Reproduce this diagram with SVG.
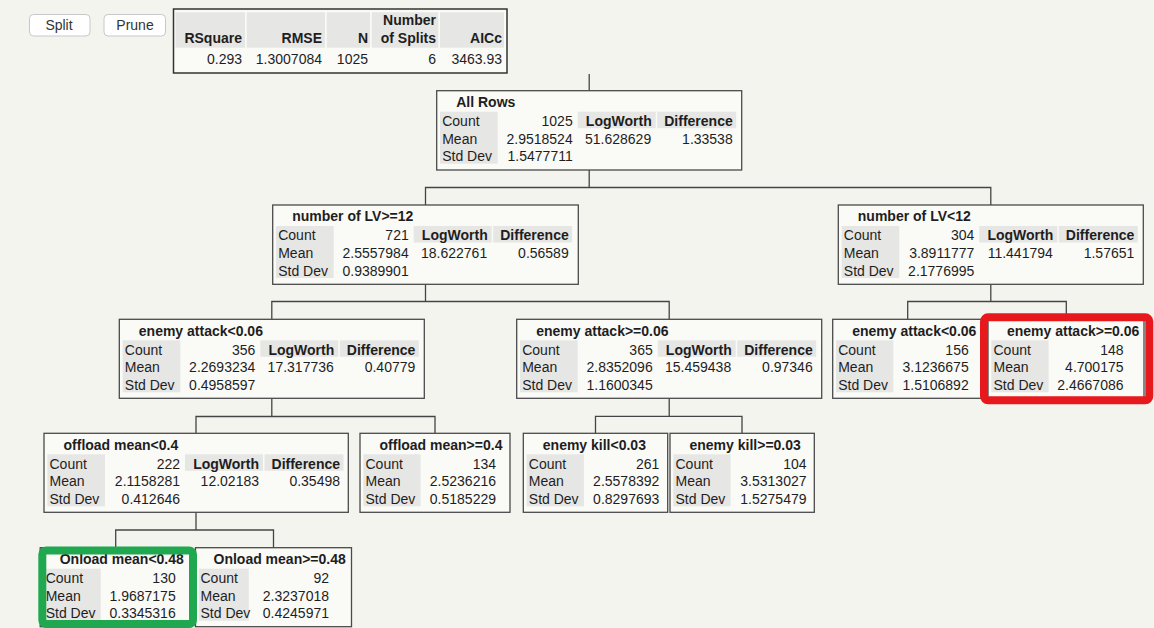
<svg xmlns="http://www.w3.org/2000/svg" width="1154" height="628" viewBox="0 0 1154 628">
<style>
text{font-family:"Liberation Sans",Arial,sans-serif;font-size:14px;fill:#1e1e1e}
.t{font-weight:bold}
.h{font-weight:bold;text-anchor:end}
.v{text-anchor:end}
.box{fill:#fafaf7;stroke:#4a4a4a;stroke-width:1.3}
.cell{fill:#e6e6e4}
.con{fill:none;stroke:#444;stroke-width:1.3}
.btn{fill:#ffffff;stroke:#c8c8c8;stroke-width:1}
.bt{fill:#333;text-anchor:middle}
</style>
<rect x="0" y="0" width="1154" height="628" fill="#f4f4ef"/>

<g id="buttons">
<rect class="btn" x="29.5" y="14.5" width="60.5" height="21.5" rx="4"/>
<text class="bt" x="59" y="30">Split</text>
<rect class="btn" x="104" y="14.5" width="61.5" height="21.5" rx="4"/>
<text class="bt" x="135" y="30">Prune</text>
</g>

<g id="summary">
<rect x="173.5" y="9" width="333.5" height="64" fill="#fafaf7" stroke="#333" stroke-width="1.5"/>
<rect class="cell" x="175.5" y="12.3" width="69.5" height="35.4"/>
<rect class="cell" x="246.7" y="12.3" width="78.3" height="35.4"/>
<rect class="cell" x="326.7" y="12.3" width="43.3" height="35.4"/>
<rect class="cell" x="371.7" y="12.3" width="66.6" height="35.4"/>
<rect class="cell" x="440" y="12.3" width="64" height="35.4"/>
<text class="h" x="242" y="42.7">RSquare</text>
<text class="h" x="322" y="42.7">RMSE</text>
<text class="h" x="368" y="42.7">N</text>
<text class="h" x="436" y="25">Number</text>
<text class="h" x="436" y="42.7">of Splits</text>
<text class="h" x="502" y="42.7">AICc</text>
<text class="v" x="242" y="64.3">0.293</text>
<text class="v" x="322" y="64.3">1.3007084</text>
<text class="v" x="368" y="64.3">1025</text>
<text class="v" x="436" y="64.3">6</text>
<text class="v" x="502" y="64.3">3463.93</text>
</g>

<g id="connectors">
<path class="con" d="M589.2 74V90.7"/>
<path class="con" d="M589.2 170V187.5M425.5 205V187.5H990.8V205"/>
<path class="con" d="M425.5 284.3V301.5M271.8 319.3V301.5H669.2V319.3"/>
<path class="con" d="M990.8 284.3V301.5M907.7 319.3V301.5H1066.3V319.3"/>
<path class="con" d="M271.8 398.3V416.5M196 433.3V416.5H435V433.3"/>
<path class="con" d="M669.2 398.3V416.3M595.5 433.3V416.3H742V433.3"/>
<path class="con" d="M196 512.3V530M115.7 547.7V530H273.5V547.7"/>
</g>

<g id="n-allrows" transform="translate(436.7,90.7)">
<rect class="box" x="0" y="0" width="305" height="79.3"/>
<rect class="cell" x="3.3" y="21" width="57.7" height="52"/>
<rect class="cell" x="141" y="21" width="78" height="16.5"/>
<rect class="cell" x="220.5" y="21" width="79" height="16.5"/>
<text class="t" x="19.5" y="16.3">All Rows</text>
<text x="5.5" y="35.3">Count</text><text x="5.5" y="53">Mean</text><text x="5.5" y="70.7">Std Dev</text>
<text class="v" x="136" y="35.3">1025</text><text class="v" x="136" y="53">2.9518524</text><text class="v" x="136" y="70.7">1.5477711</text>
<text class="h" x="215" y="35.3">LogWorth</text><text class="h" x="296" y="35.3">Difference</text>
<text class="v" x="214.5" y="53">51.628629</text><text class="v" x="296" y="53">1.33538</text>
</g>

<g id="n-lv-ge12" transform="translate(272.7,205)">
<rect class="box" x="0" y="0" width="305.6" height="79.3"/>
<rect class="cell" x="3.3" y="21" width="57.7" height="52"/>
<rect class="cell" x="141" y="21" width="78" height="16.5"/>
<rect class="cell" x="220.5" y="21" width="79" height="16.5"/>
<text class="t" x="19.5" y="16.3">number of LV&gt;=12</text>
<text x="5.5" y="35.3">Count</text><text x="5.5" y="53">Mean</text><text x="5.5" y="70.7">Std Dev</text>
<text class="v" x="136" y="35.3">721</text><text class="v" x="136" y="53">2.5557984</text><text class="v" x="136" y="70.7">0.9389901</text>
<text class="h" x="215" y="35.3">LogWorth</text><text class="h" x="296" y="35.3">Difference</text>
<text class="v" x="214.5" y="53">18.622761</text><text class="v" x="296" y="53">0.56589</text>
</g>

<g id="n-lv-lt12" transform="translate(838.3,205)">
<rect class="box" x="0" y="0" width="305" height="79.3"/>
<rect class="cell" x="3.3" y="21" width="57.7" height="52"/>
<rect class="cell" x="141" y="21" width="78" height="16.5"/>
<rect class="cell" x="220.5" y="21" width="79" height="16.5"/>
<text class="t" x="19.5" y="16.3">number of LV&lt;12</text>
<text x="5.5" y="35.3">Count</text><text x="5.5" y="53">Mean</text><text x="5.5" y="70.7">Std Dev</text>
<text class="v" x="136" y="35.3">304</text><text class="v" x="136" y="53">3.8911777</text><text class="v" x="136" y="70.7">2.1776995</text>
<text class="h" x="215" y="35.3">LogWorth</text><text class="h" x="296" y="35.3">Difference</text>
<text class="v" x="214.5" y="53">11.441794</text><text class="v" x="296" y="53">1.57651</text>
</g>

<g id="n-ea-lt006" transform="translate(119.3,319.3)">
<rect class="box" x="0" y="0" width="305" height="79"/>
<rect class="cell" x="3.3" y="21" width="57.7" height="52"/>
<rect class="cell" x="141" y="21" width="78" height="16.5"/>
<rect class="cell" x="220.5" y="21" width="79" height="16.5"/>
<text class="t" x="19.5" y="16.3">enemy attack&lt;0.06</text>
<text x="5.5" y="35.3">Count</text><text x="5.5" y="53">Mean</text><text x="5.5" y="70.7">Std Dev</text>
<text class="v" x="136" y="35.3">356</text><text class="v" x="136" y="53">2.2693234</text><text class="v" x="136" y="70.7">0.4958597</text>
<text class="h" x="215" y="35.3">LogWorth</text><text class="h" x="296" y="35.3">Difference</text>
<text class="v" x="214.5" y="53">17.317736</text><text class="v" x="296" y="53">0.40779</text>
</g>

<g id="n-ea-ge006" transform="translate(516.7,319.3)">
<rect class="box" x="0" y="0" width="305" height="79"/>
<rect class="cell" x="3.3" y="21" width="57.7" height="52"/>
<rect class="cell" x="141" y="21" width="78" height="16.5"/>
<rect class="cell" x="220.5" y="21" width="79" height="16.5"/>
<text class="t" x="19.5" y="16.3">enemy attack&gt;=0.06</text>
<text x="5.5" y="35.3">Count</text><text x="5.5" y="53">Mean</text><text x="5.5" y="70.7">Std Dev</text>
<text class="v" x="136" y="35.3">365</text><text class="v" x="136" y="53">2.8352096</text><text class="v" x="136" y="70.7">1.1600345</text>
<text class="h" x="215" y="35.3">LogWorth</text><text class="h" x="296" y="35.3">Difference</text>
<text class="v" x="214.5" y="53">15.459438</text><text class="v" x="296" y="53">0.97346</text>
</g>

<g id="n-ea-lt006-leaf" transform="translate(832.7,319.3)">
<rect class="box" x="0" y="0" width="150" height="79"/>
<rect class="cell" x="3.3" y="21" width="57.3" height="52"/>
<text class="t" x="19.5" y="16.3">enemy attack&lt;0.06</text>
<text x="5.5" y="35.3">Count</text><text x="5.5" y="53">Mean</text><text x="5.5" y="70.7">Std Dev</text>
<text class="v" x="136" y="35.3">156</text><text class="v" x="136" y="53">3.1236675</text><text class="v" x="136" y="70.7">1.5106892</text>
</g>

<g id="n-ea-ge006-leaf" transform="translate(988,319.3)">
<rect class="box" x="0" y="0" width="156" height="79"/>
<rect class="cell" x="3.3" y="21" width="57.3" height="52"/>
<text class="t" x="19" y="16.3">enemy attack&gt;=0.06</text>
<text x="5.5" y="35.3">Count</text><text x="5.5" y="53">Mean</text><text x="5.5" y="70.7">Std Dev</text>
<text class="v" x="135.5" y="35.3">148</text><text class="v" x="135.5" y="53">4.700175</text><text class="v" x="135.5" y="70.7">2.4667086</text>
</g>

<g id="n-off-lt04" transform="translate(44,433.3)">
<rect class="box" x="0" y="0" width="304.3" height="79"/>
<rect class="cell" x="3.3" y="21" width="57.7" height="52"/>
<rect class="cell" x="141" y="21" width="78" height="16.5"/>
<rect class="cell" x="220.5" y="21" width="79" height="16.5"/>
<text class="t" x="19.5" y="16.3">offload mean&lt;0.4</text>
<text x="5.5" y="35.3">Count</text><text x="5.5" y="53">Mean</text><text x="5.5" y="70.7">Std Dev</text>
<text class="v" x="136" y="35.3">222</text><text class="v" x="136" y="53">2.1158281</text><text class="v" x="136" y="70.7">0.412646</text>
<text class="h" x="215" y="35.3">LogWorth</text><text class="h" x="296" y="35.3">Difference</text>
<text class="v" x="215" y="53">12.02183</text><text class="v" x="296" y="53">0.35498</text>
</g>

<g id="n-off-ge04" transform="translate(360,433.3)">
<rect class="box" x="0" y="0" width="150" height="79"/>
<rect class="cell" x="3.3" y="21" width="57.3" height="52"/>
<text class="t" x="19.5" y="16.3">offload mean&gt;=0.4</text>
<text x="5.5" y="35.3">Count</text><text x="5.5" y="53">Mean</text><text x="5.5" y="70.7">Std Dev</text>
<text class="v" x="136" y="35.3">134</text><text class="v" x="136" y="53">2.5236216</text><text class="v" x="136" y="70.7">0.5185229</text>
</g>

<g id="n-ek-lt003" transform="translate(523.3,433.3)">
<rect class="box" x="0" y="0" width="144.4" height="79"/>
<rect class="cell" x="3.3" y="21" width="57.3" height="52"/>
<text class="t" x="19.5" y="16.3">enemy kill&lt;0.03</text>
<text x="5.5" y="35.3">Count</text><text x="5.5" y="53">Mean</text><text x="5.5" y="70.7">Std Dev</text>
<text class="v" x="136" y="35.3">261</text><text class="v" x="136" y="53">2.5578392</text><text class="v" x="136" y="70.7">0.8297693</text>
</g>

<g id="n-ek-ge003" transform="translate(670,433.3)">
<rect class="box" x="0" y="0" width="144.3" height="79"/>
<rect class="cell" x="3.3" y="21" width="57.3" height="52"/>
<text class="t" x="19.5" y="16.3">enemy kill&gt;=0.03</text>
<text x="5.5" y="35.3">Count</text><text x="5.5" y="53">Mean</text><text x="5.5" y="70.7">Std Dev</text>
<text class="v" x="136.5" y="35.3">104</text><text class="v" x="136.5" y="53">3.5313027</text><text class="v" x="136.5" y="70.7">1.5275479</text>
</g>

<g id="n-on-lt048" transform="translate(40.2,547.7)">
<rect class="box" x="0" y="0" width="151" height="79"/>
<rect class="cell" x="3.3" y="21" width="57.3" height="52"/>
<text class="t" x="19.5" y="16.3">Onload mean&lt;0.48</text>
<text x="5.5" y="35.3">Count</text><text x="5.5" y="53">Mean</text><text x="5.5" y="70.7">Std Dev</text>
<text class="v" x="135.5" y="35.3">130</text><text class="v" x="135.5" y="53">1.9687175</text><text class="v" x="135.5" y="70.7">0.3345316</text>
</g>

<g id="n-on-ge048" transform="translate(195.5,547.7)">
<rect class="box" x="0" y="0" width="156" height="79"/>
<rect class="cell" x="3.3" y="21" width="50" height="52"/>
<text class="t" x="18" y="16.3">Onload mean&gt;=0.48</text>
<text x="5" y="35.3">Count</text><text x="5" y="53">Mean</text><text x="5" y="70.7">Std Dev</text>
<text class="v" x="133.5" y="35.3">92</text><text class="v" x="133.5" y="53">2.3237018</text><text class="v" x="133.5" y="70.7">0.4245971</text>
</g>

<g id="highlights">
<rect x="984" y="317.3" width="165.3" height="83" rx="4" fill="none" stroke="#e8191c" stroke-width="8"/>
<rect x="42.3" y="550.5" width="150.7" height="73.5" rx="4" fill="none" stroke="#1fa84f" stroke-width="8"/>
</g>
</svg>
